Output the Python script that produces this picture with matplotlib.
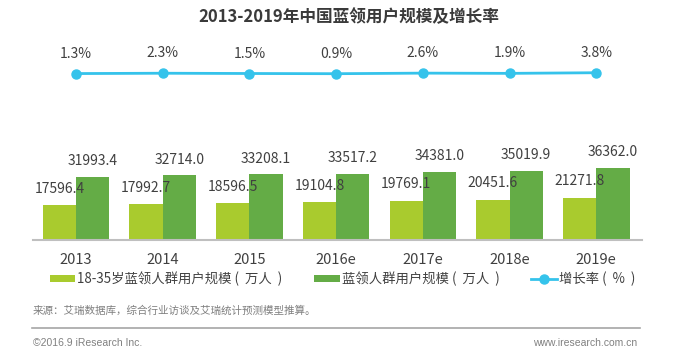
import matplotlib
matplotlib.use("Agg")
import matplotlib.pyplot as plt
from matplotlib.lines import Line2D
import numpy as np

plt.rcParams['font.family'] = ['Noto Sans CJK SC', 'DejaVu Sans']

years = ['2013', '2014', '2015', '2016e', '2017e', '2018e', '2019e']
young_users = [17596.4, 17992.7, 18596.5, 19104.8, 19769.1, 20451.6, 21271.8]
all_users = [31993.4, 32714.0, 33208.1, 33517.2, 34381.0, 35019.9, 36362.0]
growth = [1.3, 2.3, 1.5, 0.9, 2.6, 1.9, 3.8]

LIGHT = '#a9cb2e'
DARK = '#64ac46'
CYAN = '#35c3eb'
TXT = '#404040'

W, H = 696, 356
fig = plt.figure(figsize=(W / 100, H / 100), dpi=100)
fig.patch.set_facecolor('white')

ax = fig.add_axes([33 / W, 116 / H, (642 - 33) / W, 200 / H])
x = np.arange(len(years))
bw = 0.384
b1 = ax.bar(x - bw / 2, young_users, bw, color=LIGHT)
b2 = ax.bar(x + bw / 2, all_users, bw, color=DARK)
ax.set_xlim(-0.496, 6.528)
ax.set_ylim(0, 101000)
for s in ['top', 'right', 'left']:
    ax.spines[s].set_visible(False)
ax.spines['bottom'].set_color('#bfbfbf')
ax.spines['bottom'].set_linewidth(1.5)
ax.set_yticks([])
ax.set_xticks(x)
ax.set_xticklabels(years, fontsize=10.5, color=TXT)
ax.tick_params(axis='x', length=0, pad=9.5)

for i in range(len(years)):
    ax.annotate(f'{young_users[i]:.1f}', (x[i] - bw / 2, young_users[i]), xytext=(0, 11.8),
                textcoords='offset points', ha='center', va='center', fontsize=10, color=TXT)
    ax.annotate(f'{all_users[i]:.1f}', (x[i] + bw / 2, all_users[i]), xytext=(0, 11.3),
                textcoords='offset points', ha='center', va='center', fontsize=10, color=TXT)

ax2 = ax.twinx()
ln, = ax2.plot(x, growth, color=CYAN, lw=2, marker='o', ms=6.5)
ax2.set_ylim(-498, 102)
ax2.axis('off')
for i in range(len(years)):
    ax2.annotate(f'{growth[i]}%', (x[i], growth[i]), xytext=(0, 14.4),
                 textcoords='offset points', ha='center', va='center', fontsize=10, color=TXT)

fig.legend([b1, b2, ln], ['18-35岁蓝领人群用户规模 (  万人  )', '蓝领人群用户规模 (  万人  )', '增长率 (  %  )'],
           loc='center', bbox_to_anchor=(342.5 / W, 1 - 279.3 / H), ncol=3, frameon=False,
           fontsize=9.6, handlelength=1.9, handleheight=0.45, handletextpad=0.15,
           columnspacing=2.4, borderpad=0, borderaxespad=0, labelcolor=TXT)

fig.text(349 / W, 1 - 17 / H, '2013-2019年中国蓝领用户规模及增长率', ha='center', va='center',
         fontsize=12, fontweight='bold', color='#3a3a3a')

fig.text(32.7 / W, 1 - 310.7 / H, '来源：艾瑞数据库，综合行业访谈及艾瑞统计预测模型推算。',
         ha='left', va='center', fontsize=7.6, color='#7f7f7f')
fig.add_artist(Line2D([32 / W, 640 / W], [1 - 328.3 / H] * 2, color='#a6a6a6', lw=1.2))
fig.text(32.7 / W, 1 - 343.3 / H, '©2016.9 iResearch Inc.', ha='left', va='center',
         fontsize=7.5, color='#808080', family='Liberation Sans')
fig.text(637 / W, 1 - 342.7 / H, 'www.iresearch.com.cn', ha='right', va='center',
         fontsize=7.5, color='#808080', family='Liberation Sans')

fig.savefig('out.png', dpi=100)
